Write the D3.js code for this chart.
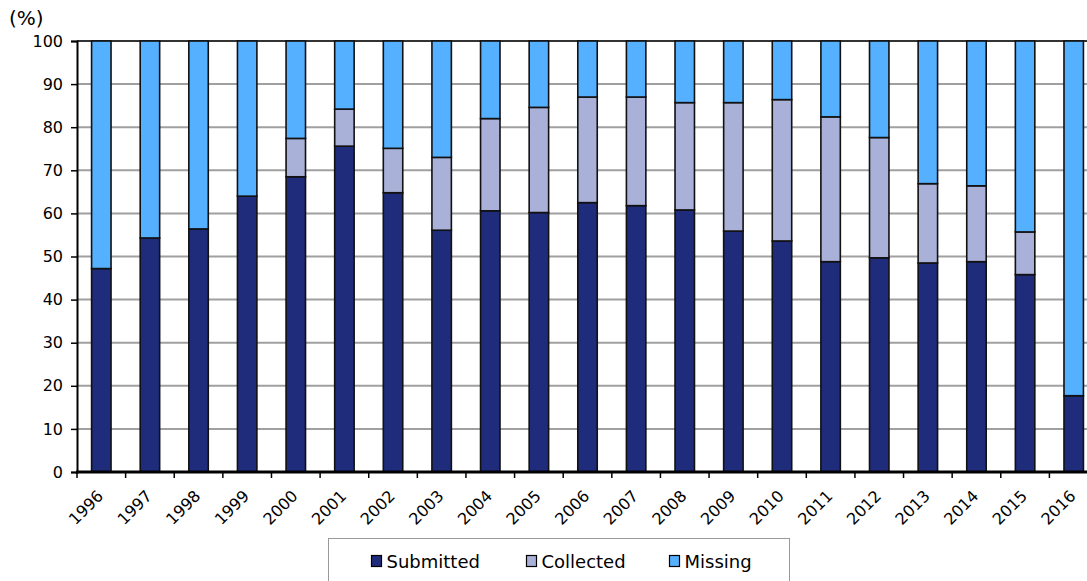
<!DOCTYPE html>
<html><head><meta charset="utf-8">
<script src="https://cdn.jsdelivr.net/npm/d3@7"></script>
<style>body{margin:0;background:#fff}svg{display:block}text{font-family:Verdana,"DejaVu Sans",sans-serif;fill:#000}</style>
</head><body><svg id="c" width="1087" height="581"></svg>
<script>
const years = ["1996","1997","1998","1999","2000","2001","2002","2003","2004","2005","2006","2007","2008","2009","2010","2011","2012","2013","2014","2015","2016"];
const submitted = [47.2,54.3,56.4,64.0,68.5,75.6,64.8,56.1,60.6,60.2,62.5,61.8,60.8,55.9,53.6,48.8,49.7,48.5,48.8,45.8,17.7];
const collected = [0,0,0,0,8.9,8.6,10.3,16.9,21.4,24.4,24.5,25.2,24.9,29.8,32.8,33.6,27.9,18.4,17.6,9.9,0];
const missing = submitted.map((s,i)=>+(100 - s - collected[i]).toFixed(1));
const seriesNames = ["Submitted","Collected","Missing"];
const colors = ["#1f2b7b","#a9b1d8","#55b0ff"];
const yTicks = [0,10,20,30,40,50,60,70,80,90,100];

const svg = d3.select("#c");
const mLeft = 77, mTop = 41, mBottom = 472, mRight = 77 + 21*48.62;
const x = d3.scaleBand().domain(years).range([mLeft,mRight]).paddingInner(0.6).paddingOuter(0.3);
const y = d3.scaleLinear().domain([0,100]).range([mBottom,mTop]);

// gridlines
svg.append("g").selectAll("line").data(yTicks.filter(t=>t>0 && t<100)).join("line")
  .attr("x1",mLeft).attr("x2",mRight).attr("y1",d=>y(d)).attr("y2",d=>y(d))
  .attr("stroke","#a0a0a0").attr("stroke-width",2);
svg.append("line").attr("x1",mLeft).attr("x2",mRight).attr("y1",y(100)).attr("y2",y(100))
  .attr("stroke","#333").attr("stroke-width",2);

const data = years.map((yr,i)=>({year:yr, Submitted:submitted[i], Collected:collected[i], Missing:missing[i]}));
const stack = d3.stack().keys(seriesNames)(data);
svg.append("g").selectAll("g").data(stack).join("g").attr("fill",(d,i)=>colors[i])
  .selectAll("rect").data(d=>d.filter(p=>p[1]-p[0]>0)).join("rect")
  .attr("x",d=>x(d.data.year)).attr("width",x.bandwidth())
  .attr("y",d=>y(d[1])).attr("height",d=>y(d[0])-y(d[1]))
  .attr("stroke","#111").attr("stroke-width",1.6);

// y axis
const ya = svg.append("g").attr("transform",`translate(${mLeft},0)`)
  .call(d3.axisLeft(y).tickValues(yTicks).tickSize(6).tickPadding(8));
ya.select(".domain").attr("stroke","#000").attr("stroke-width",2);
ya.selectAll(".tick line").attr("stroke","#000").attr("stroke-width",1.5);
ya.selectAll("text").style("font-size","16px").attr("fill","#000").style("font-family",'Verdana,"DejaVu Sans",sans-serif');

// x axis
const step = x.step();
svg.append("line").attr("x1",mLeft-1).attr("x2",mRight).attr("y1",mBottom).attr("y2",mBottom)
  .attr("stroke","#000").attr("stroke-width",3);
svg.append("g").selectAll("line").data(years).join("line")
  .attr("x1",d=>x(d)+x.bandwidth()/2-step/2).attr("x2",d=>x(d)+x.bandwidth()/2-step/2)
  .attr("y1",mBottom).attr("y2",mBottom+6).attr("stroke","#000").attr("stroke-width",1.5);
svg.append("g").selectAll("text").data(years).join("text")
  .attr("transform",d=>`translate(${x(d)+x.bandwidth()/2+3},${mBottom+25}) rotate(-45)`)
  .attr("text-anchor","end").style("font-size","16px").text(d=>d);

svg.append("text").attr("x",9).attr("y",25).style("font-size","20px").text("(%)");

// legend
svg.append("rect").attr("x",328.5).attr("y",538.5).attr("width",461).attr("height",60)
  .attr("fill","#fff").attr("stroke","#999").attr("stroke-width",1);
const lx = [371.5,526.5,669.5];
const lg = svg.append("g").selectAll("g").data(seriesNames).join("g")
  .attr("transform",(d,i)=>`translate(${lx[i]},555.5)`);
lg.append("rect").attr("width",10).attr("height",11).attr("fill",(d,i)=>colors[i])
  .attr("stroke","#000").attr("stroke-width",1.2);
lg.append("text").attr("x",15).attr("y",12.5).style("font-size","18px").text(d=>d);
</script></body></html>
